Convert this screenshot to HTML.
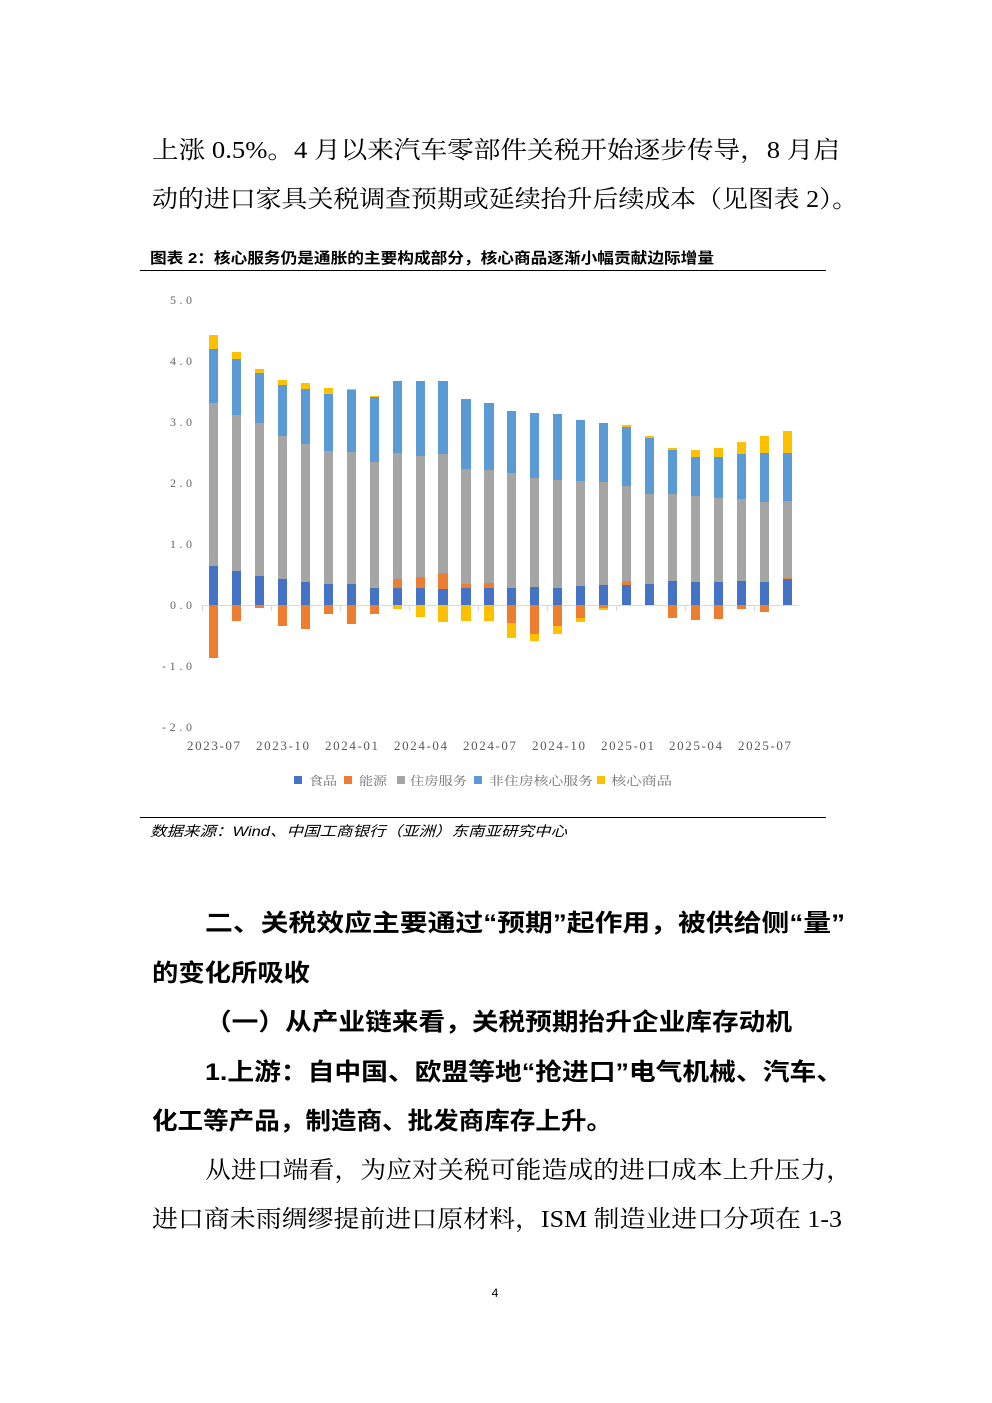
<!DOCTYPE html>
<html><head><meta charset="utf-8"><style>
html,body{margin:0;padding:0;background:#fff;}
svg{display:block;}
</style></head><body>
<svg width="992" height="1403" viewBox="0 0 992 1403" xmlns="http://www.w3.org/2000/svg" font-family="'Liberation Serif','Noto Serif CJK SC',serif">
<g font-size="24" fill="#000">
<text x="152" y="158" textLength="688" lengthAdjust="spacingAndGlyphs">上涨 0.5%。4 月以来汽车零部件关税开始逐步传导，8 月启</text>
<text x="152" y="207" textLength="706" lengthAdjust="spacingAndGlyphs">动的进口家具关税调查预期或延续抬升后续成本（见图表 2）。</text>
</g>
<text x="150" y="263" font-size="15" font-weight="bold" font-family="'Liberation Sans','Noto Sans CJK SC',sans-serif" textLength="564" lengthAdjust="spacingAndGlyphs">图表 2：核心服务仍是通胀的主要构成部分，核心商品逐渐小幅贡献边际增量</text>
<line x1="140" y1="270.5" x2="826" y2="270.5" stroke="#000" stroke-width="1"/>
<g font-size="12" fill="#666">
<text x="170" y="304" textLength="22" lengthAdjust="spacing">5.0</text><text x="170" y="365" textLength="22" lengthAdjust="spacing">4.0</text><text x="170" y="426" textLength="22" lengthAdjust="spacing">3.0</text><text x="170" y="487" textLength="22" lengthAdjust="spacing">2.0</text><text x="170" y="548" textLength="22" lengthAdjust="spacing">1.0</text><text x="170" y="609" textLength="22" lengthAdjust="spacing">0.0</text><text x="162" y="670" textLength="30" lengthAdjust="spacing">-1.0</text><text x="162" y="731" textLength="30" lengthAdjust="spacing">-2.0</text>
</g>
<line x1="202" y1="605.5" x2="799" y2="605.5" stroke="#d9d9d9" stroke-width="1"/>
<g>
<rect x="209" y="566" width="9" height="39" fill="#4472C4"/><rect x="209" y="403" width="9" height="163" fill="#A5A5A5"/><rect x="209" y="349" width="9" height="54" fill="#5B9BD5"/><rect x="209" y="335" width="9" height="14" fill="#FFC000"/><rect x="209" y="605" width="9" height="53" fill="#ED7D31"/>
<rect x="232" y="571" width="9" height="34" fill="#4472C4"/><rect x="232" y="415" width="9" height="156" fill="#A5A5A5"/><rect x="232" y="359" width="9" height="56" fill="#5B9BD5"/><rect x="232" y="352" width="9" height="7" fill="#FFC000"/><rect x="232" y="605" width="9" height="16" fill="#ED7D31"/>
<rect x="255" y="576" width="9" height="29" fill="#4472C4"/><rect x="255" y="423" width="9" height="153" fill="#A5A5A5"/><rect x="255" y="373" width="9" height="50" fill="#5B9BD5"/><rect x="255" y="369" width="9" height="4" fill="#FFC000"/><rect x="255" y="605" width="9" height="3" fill="#ED7D31"/>
<rect x="278" y="579" width="9" height="26" fill="#4472C4"/><rect x="278" y="436" width="9" height="143" fill="#A5A5A5"/><rect x="278" y="385" width="9" height="51" fill="#5B9BD5"/><rect x="278" y="380" width="9" height="5" fill="#FFC000"/><rect x="278" y="605" width="9" height="21" fill="#ED7D31"/>
<rect x="301" y="582" width="9" height="23" fill="#4472C4"/><rect x="301" y="444" width="9" height="138" fill="#A5A5A5"/><rect x="301" y="389" width="9" height="55" fill="#5B9BD5"/><rect x="301" y="383" width="9" height="6" fill="#FFC000"/><rect x="301" y="605" width="9" height="24" fill="#ED7D31"/>
<rect x="324" y="584" width="9" height="21" fill="#4472C4"/><rect x="324" y="451" width="9" height="133" fill="#A5A5A5"/><rect x="324" y="394" width="9" height="57" fill="#5B9BD5"/><rect x="324" y="388" width="9" height="6" fill="#FFC000"/><rect x="324" y="605" width="9" height="9" fill="#ED7D31"/>
<rect x="347" y="584" width="9" height="21" fill="#4472C4"/><rect x="347" y="452" width="9" height="132" fill="#A5A5A5"/><rect x="347" y="390" width="9" height="62" fill="#5B9BD5"/><rect x="347" y="389" width="9" height="1" fill="#FFC000"/><rect x="347" y="605" width="9" height="19" fill="#ED7D31"/>
<rect x="370" y="588" width="9" height="17" fill="#4472C4"/><rect x="370" y="462" width="9" height="126" fill="#A5A5A5"/><rect x="370" y="397" width="9" height="65" fill="#5B9BD5"/><rect x="370" y="396" width="9" height="1" fill="#FFC000"/><rect x="370" y="605" width="9" height="9" fill="#ED7D31"/>
<rect x="393" y="588" width="9" height="17" fill="#4472C4"/><rect x="393" y="579" width="9" height="9" fill="#ED7D31"/><rect x="393" y="453" width="9" height="126" fill="#A5A5A5"/><rect x="393" y="381" width="9" height="72" fill="#5B9BD5"/><rect x="393" y="605" width="9" height="4" fill="#FFC000"/>
<rect x="416" y="588" width="9" height="17" fill="#4472C4"/><rect x="416" y="577" width="9" height="11" fill="#ED7D31"/><rect x="416" y="456" width="9" height="121" fill="#A5A5A5"/><rect x="416" y="381" width="9" height="75" fill="#5B9BD5"/><rect x="416" y="605" width="9" height="12" fill="#FFC000"/>
<rect x="438" y="589" width="10" height="16" fill="#4472C4"/><rect x="438" y="573" width="10" height="16" fill="#ED7D31"/><rect x="438" y="454" width="10" height="119" fill="#A5A5A5"/><rect x="438" y="381" width="10" height="73" fill="#5B9BD5"/><rect x="438" y="605" width="10" height="17" fill="#FFC000"/>
<rect x="461" y="588" width="10" height="17" fill="#4472C4"/><rect x="461" y="584" width="10" height="4" fill="#ED7D31"/><rect x="461" y="469" width="10" height="115" fill="#A5A5A5"/><rect x="461" y="399" width="10" height="70" fill="#5B9BD5"/><rect x="461" y="605" width="10" height="16" fill="#FFC000"/>
<rect x="484" y="588" width="10" height="17" fill="#4472C4"/><rect x="484" y="583" width="10" height="5" fill="#ED7D31"/><rect x="484" y="470" width="10" height="113" fill="#A5A5A5"/><rect x="484" y="403" width="10" height="67" fill="#5B9BD5"/><rect x="484" y="605" width="10" height="16" fill="#FFC000"/>
<rect x="507" y="588" width="9" height="17" fill="#4472C4"/><rect x="507" y="473" width="9" height="115" fill="#A5A5A5"/><rect x="507" y="411" width="9" height="62" fill="#5B9BD5"/><rect x="507" y="605" width="9" height="18" fill="#ED7D31"/><rect x="507" y="623" width="9" height="15" fill="#FFC000"/>
<rect x="530" y="587" width="9" height="18" fill="#4472C4"/><rect x="530" y="478" width="9" height="109" fill="#A5A5A5"/><rect x="530" y="413" width="9" height="65" fill="#5B9BD5"/><rect x="530" y="605" width="9" height="29" fill="#ED7D31"/><rect x="530" y="634" width="9" height="7" fill="#FFC000"/>
<rect x="553" y="588" width="9" height="17" fill="#4472C4"/><rect x="553" y="480" width="9" height="108" fill="#A5A5A5"/><rect x="553" y="414" width="9" height="66" fill="#5B9BD5"/><rect x="553" y="605" width="9" height="21" fill="#ED7D31"/><rect x="553" y="626" width="9" height="8" fill="#FFC000"/>
<rect x="576" y="586" width="9" height="19" fill="#4472C4"/><rect x="576" y="481" width="9" height="105" fill="#A5A5A5"/><rect x="576" y="420" width="9" height="61" fill="#5B9BD5"/><rect x="576" y="605" width="9" height="13" fill="#ED7D31"/><rect x="576" y="618" width="9" height="4" fill="#FFC000"/>
<rect x="599" y="585" width="9" height="20" fill="#4472C4"/><rect x="599" y="482" width="9" height="103" fill="#A5A5A5"/><rect x="599" y="423" width="9" height="59" fill="#5B9BD5"/><rect x="599" y="605" width="9" height="3" fill="#ED7D31"/><rect x="599" y="608" width="9" height="2" fill="#FFC000"/>
<rect x="622" y="585" width="9" height="20" fill="#4472C4"/><rect x="622" y="581" width="9" height="4" fill="#ED7D31"/><rect x="622" y="486" width="9" height="95" fill="#A5A5A5"/><rect x="622" y="427" width="9" height="59" fill="#5B9BD5"/><rect x="622" y="425" width="9" height="2" fill="#FFC000"/>
<rect x="645" y="584" width="9" height="21" fill="#4472C4"/><rect x="645" y="494" width="9" height="90" fill="#A5A5A5"/><rect x="645" y="438" width="9" height="56" fill="#5B9BD5"/><rect x="645" y="436" width="9" height="2" fill="#FFC000"/>
<rect x="668" y="581" width="9" height="24" fill="#4472C4"/><rect x="668" y="494" width="9" height="87" fill="#A5A5A5"/><rect x="668" y="450" width="9" height="44" fill="#5B9BD5"/><rect x="668" y="448" width="9" height="2" fill="#FFC000"/><rect x="668" y="605" width="9" height="13" fill="#ED7D31"/>
<rect x="691" y="582" width="9" height="23" fill="#4472C4"/><rect x="691" y="496" width="9" height="86" fill="#A5A5A5"/><rect x="691" y="457" width="9" height="39" fill="#5B9BD5"/><rect x="691" y="450" width="9" height="7" fill="#FFC000"/><rect x="691" y="605" width="9" height="15" fill="#ED7D31"/>
<rect x="714" y="582" width="9" height="23" fill="#4472C4"/><rect x="714" y="498" width="9" height="84" fill="#A5A5A5"/><rect x="714" y="457" width="9" height="41" fill="#5B9BD5"/><rect x="714" y="448" width="9" height="9" fill="#FFC000"/><rect x="714" y="605" width="9" height="14" fill="#ED7D31"/>
<rect x="737" y="581" width="9" height="24" fill="#4472C4"/><rect x="737" y="499" width="9" height="82" fill="#A5A5A5"/><rect x="737" y="454" width="9" height="45" fill="#5B9BD5"/><rect x="737" y="442" width="9" height="12" fill="#FFC000"/><rect x="737" y="605" width="9" height="4" fill="#ED7D31"/>
<rect x="760" y="582" width="9" height="23" fill="#4472C4"/><rect x="760" y="502" width="9" height="80" fill="#A5A5A5"/><rect x="760" y="453" width="9" height="49" fill="#5B9BD5"/><rect x="760" y="436" width="9" height="17" fill="#FFC000"/><rect x="760" y="605" width="9" height="7" fill="#ED7D31"/>
<rect x="783" y="579" width="9" height="26" fill="#4472C4"/><rect x="783" y="578" width="9" height="1" fill="#ED7D31"/><rect x="783" y="501" width="9" height="77" fill="#A5A5A5"/><rect x="783" y="453" width="9" height="48" fill="#5B9BD5"/><rect x="783" y="431" width="9" height="22" fill="#FFC000"/>
</g>
<g stroke="#d9d9d9" stroke-width="1">
<line x1="202.5" y1="605" x2="202.5" y2="611"/><line x1="271.5" y1="605" x2="271.5" y2="611"/><line x1="340.5" y1="605" x2="340.5" y2="611"/><line x1="409.5" y1="605" x2="409.5" y2="611"/><line x1="478.5" y1="605" x2="478.5" y2="611"/><line x1="547.5" y1="605" x2="547.5" y2="611"/><line x1="616.5" y1="605" x2="616.5" y2="611"/><line x1="685.5" y1="605" x2="685.5" y2="611"/><line x1="754.5" y1="605" x2="754.5" y2="611"/>
</g>
<g font-size="13" fill="#595959">
<text x="187" y="750" textLength="53" lengthAdjust="spacing">2023-07</text><text x="256" y="750" textLength="53" lengthAdjust="spacing">2023-10</text><text x="325" y="750" textLength="53" lengthAdjust="spacing">2024-01</text><text x="394" y="750" textLength="53" lengthAdjust="spacing">2024-04</text><text x="463" y="750" textLength="53" lengthAdjust="spacing">2024-07</text><text x="532" y="750" textLength="53" lengthAdjust="spacing">2024-10</text><text x="601" y="750" textLength="53" lengthAdjust="spacing">2025-01</text><text x="669" y="750" textLength="53" lengthAdjust="spacing">2025-04</text><text x="738" y="750" textLength="53" lengthAdjust="spacing">2025-07</text>
</g>
<g font-size="12" fill="#737373">
<rect x="294" y="776" width="8" height="8" fill="#4472C4"/><text x="309" y="785" textLength="28" lengthAdjust="spacingAndGlyphs">食品</text>
<rect x="344" y="776" width="8" height="8" fill="#ED7D31"/><text x="359" y="785" textLength="28" lengthAdjust="spacingAndGlyphs">能源</text>
<rect x="397" y="776" width="8" height="8" fill="#A5A5A5"/><text x="410" y="785" textLength="57" lengthAdjust="spacingAndGlyphs">住房服务</text>
<rect x="474" y="776" width="8" height="8" fill="#5B9BD5"/><text x="489" y="785" textLength="104" lengthAdjust="spacingAndGlyphs">非住房核心服务</text>
<rect x="597" y="776" width="8" height="8" fill="#FFC000"/><text x="611" y="785" textLength="61" lengthAdjust="spacingAndGlyphs">核心商品</text>
</g>
<line x1="140" y1="817.5" x2="826" y2="817.5" stroke="#000" stroke-width="1"/>
<text x="150" y="836" font-size="14" font-style="italic" font-family="'Liberation Sans','Noto Sans CJK SC',sans-serif" textLength="417" lengthAdjust="spacingAndGlyphs">数据来源：Wind、中国工商银行（亚洲）东南亚研究中心</text>
<g font-size="24" font-weight="bold" font-family="'Liberation Sans','Noto Sans CJK SC',sans-serif">
<text x="205" y="931" textLength="640" lengthAdjust="spacingAndGlyphs">二、关税效应主要通过“预期”起作用，被供给侧“量”</text>
<text x="152" y="981" textLength="158" lengthAdjust="spacingAndGlyphs">的变化所吸收</text>
<text x="205" y="1030" textLength="587" lengthAdjust="spacingAndGlyphs">（一）从产业链来看，关税预期抬升企业库存动机</text>
<text x="205" y="1080" textLength="638" lengthAdjust="spacingAndGlyphs">1.上游：自中国、欧盟等地“抢进口”电气机械、汽车、</text>
<text x="152" y="1129" textLength="460" lengthAdjust="spacingAndGlyphs">化工等产品，制造商、批发商库存上升。</text>
</g>
<g font-size="24">
<text x="205" y="1178" textLength="647" lengthAdjust="spacingAndGlyphs">从进口端看，为应对关税可能造成的进口成本上升压力，</text>
<text x="152" y="1227" textLength="690" lengthAdjust="spacingAndGlyphs">进口商未雨绸缪提前进口原材料，ISM 制造业进口分项在 1-3</text>
</g>
<text x="495" y="1297" font-size="12" text-anchor="middle" font-family="'Liberation Sans',sans-serif">4</text>
</svg>
</body></html>
